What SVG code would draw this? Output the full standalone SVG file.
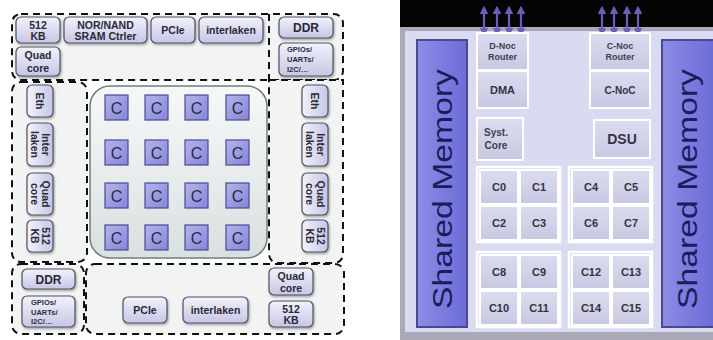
<svg xmlns="http://www.w3.org/2000/svg" width="713" height="340" viewBox="0 0 713 340">
<defs>
<linearGradient id="gBox" x1="0" y1="0" x2="0" y2="1"><stop offset="0" stop-color="#f2f2fc"/><stop offset="1" stop-color="#c6c6e6"/></linearGradient>
<linearGradient id="gBoxV" x1="0" y1="0" x2="1" y2="0"><stop offset="0" stop-color="#f2f2fc"/><stop offset="1" stop-color="#c6c6e6"/></linearGradient>
<linearGradient id="gC" x1="0" y1="0" x2="1" y2="1"><stop offset="0" stop-color="#b4b4f0"/><stop offset="1" stop-color="#8484d6"/></linearGradient>
<linearGradient id="gCenter" x1="0" y1="0" x2="0" y2="1"><stop offset="0" stop-color="#f6f8f8"/><stop offset="1" stop-color="#d9e0e0"/></linearGradient>
<linearGradient id="gBar" x1="0" y1="0" x2="1" y2="0"><stop offset="0" stop-color="#8c8ce8"/><stop offset="1" stop-color="#6c6cd6"/></linearGradient>
<linearGradient id="gCell" x1="0" y1="0" x2="0" y2="1"><stop offset="0" stop-color="#dcdcef"/><stop offset="1" stop-color="#c8c8e2"/></linearGradient>
<marker id="ah" viewBox="0 0 6 6" refX="3" refY="3" markerWidth="4" markerHeight="4" orient="auto-start-reverse"><path d="M0,0 L6,3 L0,6 z" fill="#6a5fb8"/></marker>
<filter id="sh" x="-20%" y="-20%" width="140%" height="140%"><feDropShadow dx="1" dy="1.5" stdDeviation="0.8" flood-color="#000" flood-opacity="0.35"/></filter>
</defs>
<style>
.reg{fill:#f2f3f3;stroke:#111;stroke-width:2;stroke-dasharray:7 5}
.dl{fill:none;stroke:#111;stroke-width:2;stroke-dasharray:7 5}
.box{fill:url(#gBox);stroke:#505060;stroke-width:1.2;filter:url(#sh)}
.vbox{fill:url(#gBoxV);stroke:#505060;stroke-width:1.2;filter:url(#sh)}
.bt{font-family:"Liberation Sans",Arial,sans-serif;font-weight:bold;font-size:10.5px;fill:#2a2a36;text-anchor:middle}
.st{font-family:"Liberation Sans",Arial,sans-serif;font-weight:bold;font-size:7.5px;fill:#2a2a36}
.cb{fill:url(#gC);stroke:#4a4a90;stroke-width:1.2}
.ct{font-family:"Liberation Sans",Arial,sans-serif;font-size:16px;fill:#2a2a40;text-anchor:middle}
.bar{fill:url(#gBar);stroke:#4a4a8a;stroke-width:2}
.mt{font-family:"Liberation Sans",Arial,sans-serif;font-size:27px;fill:#1c1c5c;text-anchor:middle}
.cell{fill:url(#gCell);stroke:#ffffff;stroke-width:2}
.frame{fill:none;stroke:#ffffff;stroke-width:2.5}
.rt{font-family:"Liberation Sans",Arial,sans-serif;font-weight:bold;font-size:11px;fill:#343444;text-anchor:middle}
.rs{font-family:"Liberation Sans",Arial,sans-serif;font-weight:bold;font-size:9px;fill:#404050;text-anchor:middle}
.arr{stroke:#6a5fb8;stroke-width:2.2;marker-start:url(#ah);marker-end:url(#ah)}
</style>
<rect width="713" height="340" fill="#ffffff"/>

<!-- LEFT DIAGRAM regions -->
<g id="regions">
<rect class="reg" x="12" y="14" width="331" height="66" rx="9"/>
<path class="reg" d="M269,80 L343,80 L343,253 Q343,263 333,263 L279,263 Q269,263 269,253 Z"/>
<line class="dl" x1="269" y1="14" x2="269" y2="80"/>
<rect class="reg" x="12" y="82" width="75" height="180" rx="9"/>
<rect class="reg" x="12" y="264" width="72" height="70" rx="9"/>
<rect class="reg" x="86" y="264" width="258" height="70" rx="9"/>
</g>

<g id="center">
<rect x="90" y="86" width="177" height="172" rx="20" fill="url(#gCenter)" stroke="#6d7e7e" stroke-width="1.5"/>
</g>

<g id="top-512kb"><rect class="box" x="16" y="17" width="44" height="26" rx="5"/><text class="bt" x="38" y="28.5">512</text><text class="bt" x="38" y="40">KB</text></g>
<g id="top-nor"><rect class="box" x="64" y="17" width="83" height="26" rx="5"/><text class="bt" x="105.5" y="28.5">NOR/NAND</text><text class="bt" x="105.5" y="40">SRAM Ctrler</text></g>
<g id="top-pcie"><rect class="box" x="151" y="17" width="44" height="26" rx="5"/><text class="bt" x="173" y="34">PCIe</text></g>
<g id="top-interlaken"><rect class="box" x="199" y="17" width="64" height="26" rx="5"/><text class="bt" x="231" y="34">interlaken</text></g>
<g id="top-quad"><rect class="box" x="16" y="47" width="44" height="29" rx="5"/><text class="bt" x="38" y="59">Quad</text><text class="bt" x="38" y="71.5">core</text></g>
<g id="top-ddr"><rect class="box" x="279" y="17" width="54" height="21" rx="5"/><text class="bt" x="306" y="32" style="font-size:12px">DDR</text></g>
<g id="top-gpio"><rect class="box" x="279" y="43" width="54" height="33" rx="5"/><text class="st" x="287" y="52">GPIOs/</text><text class="st" x="287" y="62">UARTs/</text><text class="st" x="287" y="72">I2C/…</text></g>

<g id="l-eth"><rect class="vbox" x="27" y="85" width="26" height="32" rx="5"/><text class="bt" transform="translate(40,101) rotate(90)" y="4">Eth</text></g>
<g id="l-inter"><rect class="vbox" x="27" y="123" width="26" height="43" rx="5"/><text class="bt" transform="translate(40,144.5) rotate(90)"><tspan x="0" y="-1.5">Inter</tspan><tspan x="0" y="9">laken</tspan></text></g>
<g id="l-quad"><rect class="vbox" x="27" y="173" width="26" height="42" rx="5"/><text class="bt" transform="translate(40,194) rotate(90)"><tspan x="0" y="-1.5">Quad</tspan><tspan x="0" y="9">core</tspan></text></g>
<g id="l-512"><rect class="vbox" x="27" y="220" width="26" height="32" rx="5"/><text class="bt" transform="translate(40,236) rotate(90)"><tspan x="0" y="-1.5">512</tspan><tspan x="0" y="9">KB</tspan></text></g>

<g id="r-eth"><rect class="vbox" x="302" y="85" width="26" height="32" rx="5"/><text class="bt" transform="translate(315,101) rotate(90)" y="4">Eth</text></g>
<g id="r-inter"><rect class="vbox" x="302" y="123" width="26" height="43" rx="5"/><text class="bt" transform="translate(315,144.5) rotate(90)"><tspan x="0" y="-1.5">Inter</tspan><tspan x="0" y="9">laken</tspan></text></g>
<g id="r-quad"><rect class="vbox" x="302" y="173" width="26" height="42" rx="5"/><text class="bt" transform="translate(315,194) rotate(90)"><tspan x="0" y="-1.5">Quad</tspan><tspan x="0" y="9">core</tspan></text></g>
<g id="r-512"><rect class="vbox" x="302" y="220" width="26" height="32" rx="5"/><text class="bt" transform="translate(315,236) rotate(90)"><tspan x="0" y="-1.5">512</tspan><tspan x="0" y="9">KB</tspan></text></g>

<g id="b-ddr"><rect class="box" x="22" y="269" width="53" height="20" rx="5"/><text class="bt" x="48.5" y="283.5" style="font-size:12px">DDR</text></g>
<g id="b-gpio"><rect class="box" x="22" y="296" width="53" height="31" rx="5"/><text class="st" x="31" y="305">GPIOs/</text><text class="st" x="31" y="314.5">UARTs/</text><text class="st" x="31" y="324">I2C/…</text></g>
<g id="b-pcie"><rect class="box" x="123" y="297" width="44" height="26" rx="5"/><text class="bt" x="145" y="314">PCIe</text></g>
<g id="b-interlaken"><rect class="box" x="183" y="297" width="65" height="26" rx="5"/><text class="bt" x="215.5" y="314">interlaken</text></g>
<g id="b-quad"><rect class="box" x="269" y="268" width="44" height="27" rx="5"/><text class="bt" x="291" y="279.5">Quad</text><text class="bt" x="291" y="291.5">core</text></g>
<g id="b-512"><rect class="box" x="269" y="301" width="44" height="26" rx="5"/><text class="bt" x="291" y="312.5">512</text><text class="bt" x="291" y="324">KB</text></g>

<g id="cores">
<g id="c11"><rect class="cb" x="105" y="95" width="23" height="25"/><text class="ct" x="116.5" y="113.5">C</text></g>
<g id="c12"><rect class="cb" x="145" y="95" width="23" height="25"/><text class="ct" x="156.5" y="113.5">C</text></g>
<g id="c13"><rect class="cb" x="185" y="95" width="23" height="25"/><text class="ct" x="196.5" y="113.5">C</text></g>
<g id="c14"><rect class="cb" x="226" y="95" width="23" height="25"/><text class="ct" x="237.5" y="113.5">C</text></g>
<g id="c21"><rect class="cb" x="105" y="140" width="23" height="25"/><text class="ct" x="116.5" y="158.5">C</text></g>
<g id="c22"><rect class="cb" x="145" y="140" width="23" height="25"/><text class="ct" x="156.5" y="158.5">C</text></g>
<g id="c23"><rect class="cb" x="185" y="140" width="23" height="25"/><text class="ct" x="196.5" y="158.5">C</text></g>
<g id="c24"><rect class="cb" x="226" y="140" width="23" height="25"/><text class="ct" x="237.5" y="158.5">C</text></g>
<g id="c31"><rect class="cb" x="105" y="183" width="23" height="25"/><text class="ct" x="116.5" y="201.5">C</text></g>
<g id="c32"><rect class="cb" x="145" y="183" width="23" height="25"/><text class="ct" x="156.5" y="201.5">C</text></g>
<g id="c33"><rect class="cb" x="185" y="183" width="23" height="25"/><text class="ct" x="196.5" y="201.5">C</text></g>
<g id="c34"><rect class="cb" x="226" y="183" width="23" height="25"/><text class="ct" x="237.5" y="201.5">C</text></g>
<g id="c41"><rect class="cb" x="105" y="225" width="23" height="25"/><text class="ct" x="116.5" y="243.5">C</text></g>
<g id="c42"><rect class="cb" x="145" y="225" width="23" height="25"/><text class="ct" x="156.5" y="243.5">C</text></g>
<g id="c43"><rect class="cb" x="185" y="225" width="23" height="25"/><text class="ct" x="196.5" y="243.5">C</text></g>
<g id="c44"><rect class="cb" x="226" y="225" width="23" height="25"/><text class="ct" x="237.5" y="243.5">C</text></g>
</g>

<!-- RIGHT DIAGRAM -->
<g id="panel">
<rect x="400" y="0" width="313" height="28" fill="#050505"/>
<rect x="400" y="27" width="313" height="313" fill="#a9a9b8"/>
<rect x="405" y="31" width="308" height="301" fill="#dadaf3"/>
</g>

<g id="mem-left"><rect class="bar" x="417" y="40" width="50" height="287"/><text class="mt" transform="translate(452,189) rotate(-90)" x="0" y="0" textLength="240" lengthAdjust="spacingAndGlyphs">Shared Memory</text></g>
<g id="mem-right"><rect class="bar" x="662" y="40" width="52" height="287"/><text class="mt" transform="translate(697,189) rotate(-90)" x="0" y="0" textLength="240" lengthAdjust="spacingAndGlyphs">Shared Memory</text></g>

<g id="connectors">
<line class="arr" x1="484" y1="32" x2="484" y2="10"/>
<line class="arr" x1="497" y1="32" x2="497" y2="10"/>
<line class="arr" x1="509" y1="32" x2="509" y2="10"/>
<line class="arr" x1="521" y1="32" x2="521" y2="10"/>
<line class="arr" x1="602" y1="32" x2="602" y2="10"/>
<line class="arr" x1="614" y1="32" x2="614" y2="10"/>
<line class="arr" x1="627" y1="32" x2="627" y2="10"/>
<line class="arr" x1="638" y1="32" x2="638" y2="10"/>
</g>

<g id="dnoc"><rect class="cell" x="477" y="33" width="51" height="37"/><text class="rs" x="502.5" y="49">D-Noc</text><text class="rs" x="502.5" y="60">Router</text></g>
<g id="dma"><rect class="cell" x="477" y="71" width="51" height="37"/><text class="rt" x="502.5" y="93.5">DMA</text></g>
<g id="cnoc-router"><rect class="cell" x="590" y="33" width="60" height="37"/><text class="rs" x="620" y="49">C-Noc</text><text class="rs" x="620" y="60">Router</text></g>
<g id="cnoc"><rect class="cell" x="590" y="71" width="60" height="37"/><text class="rt" x="620" y="93.5" style="font-size:10px">C-NoC</text></g>
<g id="syst"><rect class="cell" x="477" y="118" width="46" height="42"/><text class="rs" x="496" y="136" style="font-size:10px">Syst.</text><text class="rs" x="496" y="149" style="font-size:10px">Core</text></g>
<g id="dsu"><rect class="cell" x="594" y="120" width="56" height="38"/><text class="rt" x="622" y="144" style="font-size:14px">DSU</text></g>

<g id="grp1"><rect class="frame" x="477" y="167" width="83" height="75"/>
<g id="rc0"><rect class="cell" x="480" y="170" width="38" height="34"/><text class="rt" x="499" y="191">C0</text></g>
<g id="rc1"><rect class="cell" x="520" y="170" width="38" height="34"/><text class="rt" x="539" y="191">C1</text></g>
<g id="rc2"><rect class="cell" x="480" y="206" width="38" height="34"/><text class="rt" x="499" y="227">C2</text></g>
<g id="rc3"><rect class="cell" x="520" y="206" width="38" height="34"/><text class="rt" x="539" y="227">C3</text></g>
</g>
<g id="grp2"><rect class="frame" x="569" y="167" width="83" height="75"/>
<g id="rc4"><rect class="cell" x="572" y="170" width="38" height="34"/><text class="rt" x="591" y="191">C4</text></g>
<g id="rc5"><rect class="cell" x="612" y="170" width="38" height="34"/><text class="rt" x="631" y="191">C5</text></g>
<g id="rc6"><rect class="cell" x="572" y="206" width="38" height="34"/><text class="rt" x="591" y="227">C6</text></g>
<g id="rc7"><rect class="cell" x="612" y="206" width="38" height="34"/><text class="rt" x="631" y="227">C7</text></g>
</g>
<g id="grp3"><rect class="frame" x="477" y="252" width="83" height="75"/>
<g id="rc8"><rect class="cell" x="480" y="255" width="38" height="34"/><text class="rt" x="499" y="276">C8</text></g>
<g id="rc9"><rect class="cell" x="520" y="255" width="38" height="34"/><text class="rt" x="539" y="276">C9</text></g>
<g id="rc10"><rect class="cell" x="480" y="291" width="38" height="34"/><text class="rt" x="499" y="312">C10</text></g>
<g id="rc11"><rect class="cell" x="520" y="291" width="38" height="34"/><text class="rt" x="539" y="312">C11</text></g>
</g>
<g id="grp4"><rect class="frame" x="569" y="252" width="83" height="75"/>
<g id="rc12"><rect class="cell" x="572" y="255" width="38" height="34"/><text class="rt" x="591" y="276">C12</text></g>
<g id="rc13"><rect class="cell" x="612" y="255" width="38" height="34"/><text class="rt" x="631" y="276">C13</text></g>
<g id="rc14"><rect class="cell" x="572" y="291" width="38" height="34"/><text class="rt" x="591" y="312">C14</text></g>
<g id="rc15"><rect class="cell" x="612" y="291" width="38" height="34"/><text class="rt" x="631" y="312">C15</text></g>
</g>
</svg>
